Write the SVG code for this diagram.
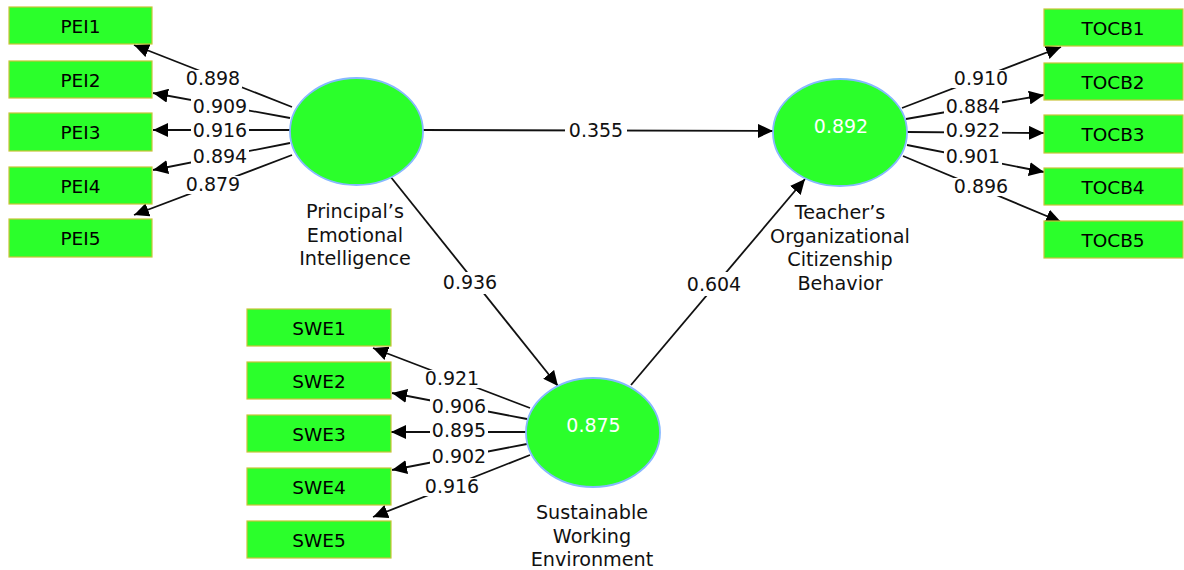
<svg xmlns="http://www.w3.org/2000/svg" width="1184" height="570" viewBox="0 0 1184 570">
<style>
.box{fill:#2bff2b;stroke:#c9c437;stroke-width:1.2}
.lv{fill:#2bff2b;stroke:#86b8ff;stroke-width:1.8}
.bt{font-family:"DejaVu Sans",sans-serif;font-size:18.5px;fill:#000;text-anchor:middle}
.nm{font-family:"DejaVu Sans",sans-serif;font-size:19.2px;fill:#111;text-anchor:middle}
.r2{font-family:"DejaVu Sans",sans-serif;font-size:19px;fill:#fff;text-anchor:middle}
.c{stroke:#111;stroke-width:1.8;fill:none;marker-end:url(#ah)}
.lb{font-family:"DejaVu Sans",sans-serif;font-size:19px;fill:#111;text-anchor:middle}
.bg{fill:#fff}
</style>
<defs>
<marker id="ah" markerUnits="userSpaceOnUse" markerWidth="16" markerHeight="14" refX="15" refY="7" orient="auto">
<path d="M0,0 L15,7 L0,14 z" fill="#000"/>
</marker>
</defs>
<rect width="1184" height="570" fill="#fff"/>
<g id="connectors">
<line class="c" x1="292" y1="107" x2="134" y2="45"/>
<line class="c" x1="290" y1="118" x2="153" y2="93"/>
<line class="c" x1="290" y1="130" x2="153" y2="130"/>
<line class="c" x1="290" y1="143" x2="153" y2="170"/>
<line class="c" x1="292" y1="155" x2="134" y2="215"/>
<line class="c" x1="902" y1="108" x2="1061" y2="47"/>
<line class="c" x1="906" y1="119" x2="1044" y2="95"/>
<line class="c" x1="907" y1="132" x2="1044" y2="133"/>
<line class="c" x1="907" y1="145" x2="1044" y2="172"/>
<line class="c" x1="903" y1="156" x2="1061" y2="222"/>
<line class="c" x1="530" y1="408" x2="373" y2="348"/>
<line class="c" x1="527" y1="419" x2="392" y2="393"/>
<line class="c" x1="526" y1="432" x2="391" y2="432"/>
<line class="c" x1="527" y1="444" x2="392" y2="470"/>
<line class="c" x1="530" y1="455" x2="373" y2="517"/>
<line class="c" x1="423" y1="130" x2="773" y2="131"/>
<line class="c" x1="390" y1="176" x2="558" y2="386"/>
<line class="c" x1="631" y1="385" x2="805" y2="179"/>
<rect class="bg" x="184" y="70" width="58" height="18"/>
<rect class="bg" x="191" y="98" width="58" height="18"/>
<rect class="bg" x="191" y="122" width="58" height="18"/>
<rect class="bg" x="191" y="148" width="58" height="18"/>
<rect class="bg" x="184" y="176" width="58" height="18"/>
<rect class="bg" x="952" y="70" width="58" height="18"/>
<rect class="bg" x="944" y="98" width="58" height="18"/>
<rect class="bg" x="944" y="122" width="58" height="18"/>
<rect class="bg" x="944" y="148" width="58" height="18"/>
<rect class="bg" x="952" y="178" width="58" height="18"/>
<rect class="bg" x="423" y="370" width="58" height="18"/>
<rect class="bg" x="430" y="398" width="58" height="18"/>
<rect class="bg" x="430" y="422" width="58" height="18"/>
<rect class="bg" x="430" y="448" width="58" height="18"/>
<rect class="bg" x="423" y="478" width="58" height="18"/>
<rect class="bg" x="565" y="122" width="62" height="18"/>
<rect class="bg" x="439" y="272" width="62" height="22"/>
<rect class="bg" x="683" y="272" width="62" height="24"/>
<text class="lb" x="213" y="85">0.898</text>
<text class="lb" x="220" y="113">0.909</text>
<text class="lb" x="220" y="137">0.916</text>
<text class="lb" x="220" y="163">0.894</text>
<text class="lb" x="213" y="191">0.879</text>
<text class="lb" x="981" y="85">0.910</text>
<text class="lb" x="973" y="113">0.884</text>
<text class="lb" x="973" y="137">0.922</text>
<text class="lb" x="973" y="163">0.901</text>
<text class="lb" x="981" y="193">0.896</text>
<text class="lb" x="452" y="385">0.921</text>
<text class="lb" x="459" y="413">0.906</text>
<text class="lb" x="459" y="437">0.895</text>
<text class="lb" x="459" y="463">0.902</text>
<text class="lb" x="452" y="493">0.916</text>
<text class="lb" x="596" y="137">0.355</text>
<text class="lb" x="470" y="289">0.936</text>
<text class="lb" x="714" y="291">0.604</text>
</g>
<g id="PEI">
<ellipse class="lv" cx="356.5" cy="131.5" rx="66.5" ry="53.5"/>
<text class="nm" x="355" y="218">Principal’s</text>
<text class="nm" x="355" y="242">Emotional</text>
<text class="nm" x="355" y="265">Intelligence</text>
</g>
<g id="TOCB">
<ellipse class="lv" cx="840" cy="132.5" rx="67" ry="53.5"/>
<text class="r2" x="841" y="133">0.892</text>
<text class="nm" x="840" y="219">Teacher’s</text>
<text class="nm" x="840" y="243">Organizational</text>
<text class="nm" x="840" y="266">Citizenship</text>
<text class="nm" x="840" y="290">Behavior</text>
</g>
<g id="SWE">
<ellipse class="lv" cx="593" cy="432.5" rx="67" ry="54.5"/>
<text class="r2" x="593.5" y="432">0.875</text>
<text class="nm" x="592" y="519">Sustainable</text>
<text class="nm" x="592" y="543">Working</text>
<text class="nm" x="592" y="566">Environment</text>
</g>
<g id="PEI1"><rect class="box" x="9" y="7" width="143" height="37"/><text class="bt" x="80.5" y="33">PEI1</text></g>
<g id="PEI2"><rect class="box" x="9" y="61" width="143" height="37"/><text class="bt" x="80.5" y="87">PEI2</text></g>
<g id="PEI3"><rect class="box" x="9" y="113" width="143" height="38"/><text class="bt" x="80.5" y="139">PEI3</text></g>
<g id="PEI4"><rect class="box" x="9" y="167" width="143" height="37"/><text class="bt" x="80.5" y="193">PEI4</text></g>
<g id="PEI5"><rect class="box" x="9" y="219" width="143" height="38"/><text class="bt" x="80.5" y="245">PEI5</text></g>
<g id="TOCB1"><rect class="box" x="1044" y="9" width="139" height="37"/><text class="bt" x="1113" y="35">TOCB1</text></g>
<g id="TOCB2"><rect class="box" x="1044" y="63" width="139" height="37"/><text class="bt" x="1113" y="89">TOCB2</text></g>
<g id="TOCB3"><rect class="box" x="1044" y="115" width="139" height="38"/><text class="bt" x="1113" y="141">TOCB3</text></g>
<g id="TOCB4"><rect class="box" x="1044" y="168" width="139" height="37"/><text class="bt" x="1113" y="194">TOCB4</text></g>
<g id="TOCB5"><rect class="box" x="1044" y="221" width="139" height="37"/><text class="bt" x="1113" y="247">TOCB5</text></g>
<g id="SWE1"><rect class="box" x="247" y="309" width="144" height="37"/><text class="bt" x="319" y="335">SWE1</text></g>
<g id="SWE2"><rect class="box" x="247" y="362" width="144" height="37"/><text class="bt" x="319" y="388">SWE2</text></g>
<g id="SWE3"><rect class="box" x="247" y="415" width="144" height="37"/><text class="bt" x="319" y="441">SWE3</text></g>
<g id="SWE4"><rect class="box" x="247" y="468" width="144" height="37"/><text class="bt" x="319" y="494">SWE4</text></g>
<g id="SWE5"><rect class="box" x="247" y="521" width="144" height="37"/><text class="bt" x="319" y="547">SWE5</text></g>
</svg>
